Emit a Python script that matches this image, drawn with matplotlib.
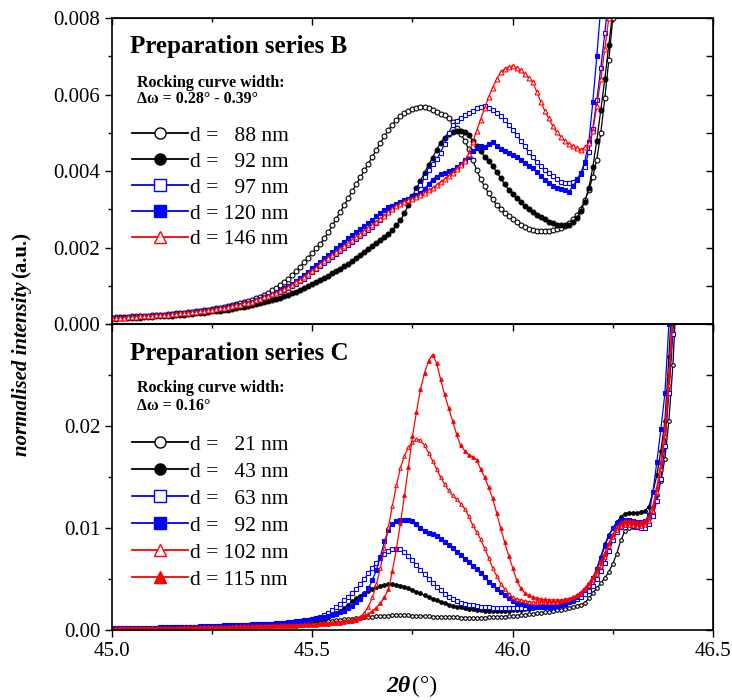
import numpy as np
import matplotlib
matplotlib.use("Agg")
import matplotlib.pyplot as plt
from matplotlib.lines import Line2D
from matplotlib.ticker import MultipleLocator, FormatStrFormatter

plt.rcParams["font.family"] = ["Liberation Serif", "DejaVu Serif"]

# ---- series B (top panel), intensity in units of 1e-4, 2theta = 45.00 ... 46.27 step 0.01
B_labels = ["d =   88 nm", "d =   92 nm", "d =   97 nm", "d = 120 nm", "d = 146 nm"]
B_88 = [1.7, 1.8, 1.8, 1.9, 1.9, 2.0, 2.0, 2.1, 2.2, 2.2,
        2.3, 2.4, 2.5, 2.5, 2.6, 2.7, 2.8, 2.9, 3.0, 3.1,
        3.2, 3.4, 3.5, 3.6, 3.8, 3.9, 4.1, 4.3, 4.5, 4.7,
        4.9, 5.2, 5.4, 5.7, 6.0, 6.4, 6.8, 7.2, 7.7, 8.2,
        8.8, 9.4, 10.1, 10.9, 11.8, 12.8, 13.9, 15.0, 16.2, 17.4,
        18.6, 19.8, 21.0, 22.4, 24.0, 25.8, 27.6, 29.4, 31.2, 33.0,
        34.8, 36.6, 38.4, 40.2, 42.0, 43.8, 45.6, 47.4, 49.2, 50.8,
        52.2, 53.4, 54.4, 55.2, 55.8, 56.3, 56.6, 56.8, 56.9, 56.6,
        56.0, 55.4, 55.0, 54.6, 53.8, 52.8, 51.4, 49.8, 48.0, 45.8,
        43.0, 40.4, 38.0, 36.0, 34.2, 32.6, 31.2, 30.0, 29.0, 28.2,
        27.4, 26.7, 26.0, 25.4, 24.9, 24.6, 24.4, 24.3, 24.3, 24.4,
        24.6, 24.8, 25.2, 25.7, 26.4, 27.4, 28.6, 30.2, 32.4, 35.0,
        38.5, 43.0, 50.0, 59.0, 69.0, 80.0, 92.0, 105]
B_92 = [1.4, 1.4, 1.5, 1.5, 1.6, 1.6, 1.7, 1.7, 1.8, 1.8,
        1.9, 2.0, 2.0, 2.1, 2.2, 2.2, 2.3, 2.4, 2.5, 2.6,
        2.7, 2.8, 2.9, 3.0, 3.1, 3.3, 3.4, 3.5, 3.7, 3.8,
        4.0, 4.2, 4.4, 4.6, 4.8, 5.0, 5.2, 5.5, 5.7, 6.0,
        6.3, 6.6, 6.9, 7.3, 7.7, 8.1, 8.5, 9.0, 9.5, 10.0,
        10.5, 11.0, 11.5, 12.1, 12.7, 13.3, 13.9, 14.5, 15.1, 15.8,
        16.5, 17.2, 18.0, 18.8, 19.6, 20.4, 21.2, 22.0, 22.8, 23.6,
        24.6, 25.8, 27.2, 29.0, 31.2, 33.4, 35.5, 37.5, 39.6, 41.6,
        43.5, 45.5, 47.4, 48.8, 49.8, 50.2, 50.4, 50.5, 50.2, 49.4,
        48.0, 46.6, 45.2, 43.8, 42.6, 41.4, 39.8, 38.2, 36.6, 35.2,
        34.0, 33.0, 32.0, 31.0, 30.0, 29.2, 28.6, 28.0, 27.4, 26.8,
        26.4, 26.0, 25.8, 25.8, 26.0, 26.6, 27.8, 29.6, 32.0, 35.5,
        41.0, 48.0, 56.0, 64.0, 73.0, 82.0, 93.0, 105]
B_97 = [1.6, 1.6, 1.7, 1.7, 1.8, 1.8, 1.9, 2.0, 2.0, 2.1,
        2.2, 2.3, 2.3, 2.4, 2.5, 2.6, 2.7, 2.8, 2.9, 3.0,
        3.1, 3.2, 3.4, 3.5, 3.6, 3.8, 3.9, 4.1, 4.3, 4.5,
        4.7, 4.9, 5.1, 5.4, 5.6, 5.9, 6.2, 6.6, 7.0, 7.4,
        7.7, 8.1, 8.5, 9.0, 9.5, 10.0, 10.6, 11.2, 11.9, 12.7,
        13.5, 14.3, 15.1, 15.9, 16.7, 17.5, 18.3, 19.1, 19.9, 20.7,
        21.5, 22.3, 23.1, 23.9, 24.7, 25.5, 26.4, 27.3, 28.2, 29.2,
        30.2, 31.0, 31.6, 32.0, 32.4, 33.2, 34.6, 36.4, 38.4, 40.2,
        41.8, 43.2, 44.8, 47.2, 50.0, 52.0, 53.2, 54.0, 54.6, 55.2,
        55.8, 56.4, 56.8, 57.0, 56.6, 56.0, 55.2, 54.4, 53.4, 52.2,
        50.8, 49.4, 48.0, 46.6, 45.0, 43.6, 42.4, 41.4, 40.4, 39.6,
        38.8, 38.0, 37.2, 36.8, 36.8, 37.2, 38.0, 39.2, 41.2, 45.0,
        51.0, 58.5, 67.0, 76.0, 86.0, 97.0, 110, 125]
B_120 = [1.6, 1.6, 1.7, 1.7, 1.8, 1.8, 1.9, 2.0, 2.0, 2.1,
         2.2, 2.3, 2.3, 2.4, 2.5, 2.6, 2.7, 2.8, 2.9, 3.0,
         3.1, 3.2, 3.4, 3.5, 3.6, 3.8, 3.9, 4.1, 4.3, 4.5,
         4.7, 4.9, 5.1, 5.4, 5.6, 5.9, 6.2, 6.6, 7.0, 7.4,
         7.9, 8.4, 8.9, 9.4, 10.0, 10.6, 11.3, 12.1, 12.9, 13.7,
         14.6, 15.4, 16.3, 17.2, 18.0, 18.9, 19.8, 20.7, 21.6, 22.4,
         23.2, 24.0, 24.8, 25.6, 26.4, 27.3, 28.2, 29.0, 29.8, 30.5,
         31.0, 31.5, 32.0, 32.4, 32.8, 33.2, 33.7, 34.4, 35.4, 36.6,
         37.8, 38.6, 39.2, 39.6, 40.0, 40.4, 41.0, 41.8, 42.8, 43.8,
         45.2, 46.0, 46.5, 46.2, 47.2, 47.6, 46.6, 45.8, 45.4, 44.8,
         44.2, 43.6, 43.0, 42.2, 41.4, 40.8, 39.8, 38.8, 37.6, 36.8,
         36.0, 35.6, 35.4, 35.0, 34.6, 36.0, 37.6, 39.5, 42.5, 47.5,
         58.0, 70.0, 83.0, 96.0, 110, 125, 140, 155]
B_146 = [1.6, 1.6, 1.7, 1.7, 1.8, 1.8, 1.9, 2.0, 2.0, 2.1,
         2.2, 2.3, 2.3, 2.4, 2.5, 2.6, 2.7, 2.8, 2.9, 3.0,
         3.1, 3.2, 3.4, 3.5, 3.6, 3.8, 3.9, 4.1, 4.3, 4.5,
         4.7, 4.9, 5.1, 5.4, 5.6, 5.9, 6.2, 6.6, 7.0, 7.4,
         7.8, 8.2, 8.7, 9.2, 9.7, 10.3, 10.9, 11.6, 12.4, 13.2,
         14.0, 14.8, 15.6, 16.4, 17.2, 18.0, 18.8, 19.6, 20.4, 21.2,
         22.0, 22.8, 23.6, 24.4, 25.2, 26.0, 26.8, 27.6, 28.4, 29.2,
         30.0, 30.8, 31.5, 32.0, 32.4, 32.8, 33.2, 33.8, 34.4, 35.0,
         35.6, 36.4, 37.2, 38.0, 38.8, 39.6, 40.6, 41.6, 42.6, 44.6,
         47.5, 50.5, 53.5, 56.5, 59.3, 61.8, 64.0, 65.8, 66.8, 67.3,
         67.4, 67.0, 66.4, 65.4, 64.4, 63.3, 60.8, 58.2, 55.8, 53.8,
         51.8, 50.2, 49.0, 48.0, 47.2, 46.6, 46.1, 45.6, 46.2, 47.4,
         50.5, 57.0, 64.0, 72.0, 80.0, 90.0, 100, 112]

# ---- series C (bottom panel), units of 1e-4, 2theta = 45.00 ... 46.41 step 0.01
C_labels = ["d =   21 nm", "d =   43 nm", "d =   63 nm", "d =   92 nm", "d = 102 nm", "d = 115 nm"]
C_21 = [2.0, 2.0, 2.0, 2.1, 2.1, 2.1, 2.2, 2.2, 2.2, 2.3,
        2.3, 2.4, 2.4, 2.5, 2.5, 2.6, 2.6, 2.7, 2.7, 2.8,
        2.9, 2.9, 3.0, 3.1, 3.2, 3.3, 3.3, 3.4, 3.5, 3.6,
        3.7, 3.8, 3.9, 4.0, 4.2, 4.3, 4.4, 4.6, 4.7, 4.9,
        5.0, 5.2, 5.4, 5.6, 5.8, 6.0, 6.2, 6.4, 6.7, 7.0,
        7.3, 7.6, 8.0, 8.4, 8.8, 9.2, 9.6, 10.0, 10.4, 10.8,
        11.2, 11.6, 12.0, 12.4, 12.8, 13.1, 13.4, 13.7, 14.0, 14.2,
        14.4, 14.5, 14.5, 14.5, 14.4, 14.2, 14.0, 13.8, 13.6, 13.4,
        13.2, 13.0, 12.9, 12.7, 12.6, 12.4, 12.3, 12.2, 12.1, 12.0,
        12.0, 12.0, 12.1, 12.2, 12.3, 12.5, 12.7, 12.9, 13.2, 13.5,
        13.8, 14.1, 14.5, 14.9, 15.3, 15.8, 16.3, 16.8, 17.4, 18.0,
        18.6, 19.3, 20.0, 20.8, 21.6, 22.5, 23.6, 25.0, 26.8, 31.0,
        36.0, 41.0, 46.0, 51.0, 57.0, 65.0, 75.0, 88.0, 97.0, 100,
        101, 101, 101, 101.5, 104, 115, 132, 146, 168, 205,
        260, 340]
C_43 = [1.8, 1.8, 1.9, 1.9, 2.0, 2.0, 2.1, 2.1, 2.2, 2.2,
        2.3, 2.3, 2.4, 2.5, 2.5, 2.6, 2.7, 2.8, 2.9, 3.0,
        3.1, 3.2, 3.3, 3.4, 3.5, 3.6, 3.7, 3.8, 3.9, 4.0,
        4.1, 4.2, 4.3, 4.4, 4.5, 4.6, 4.7, 4.8, 4.9, 5.0,
        5.1, 5.3, 5.5, 5.7, 5.9, 6.1, 6.4, 6.7, 7.0, 7.4,
        7.8, 8.6, 9.6, 10.8, 12.4, 14.4, 16.6, 19.0, 21.8, 25.0,
        28.2, 31.0, 33.6, 36.0, 38.2, 40.2, 42.0, 43.4, 44.4, 45.0,
        45.0, 44.5, 43.6, 42.4, 41.0, 39.4, 37.6, 35.8, 34.0, 32.2,
        30.6, 29.0, 27.6, 26.2, 25.0, 24.0, 23.0, 22.2, 21.4, 20.8,
        20.2, 19.8, 19.4, 19.1, 18.9, 18.7, 18.6, 18.6, 18.7, 18.9,
        19.2, 19.6, 20.0, 20.5, 21.0, 21.6, 22.2, 22.8, 23.5, 24.2,
        24.9, 25.6, 26.4, 27.2, 28.2, 29.4, 31.0, 33.5, 37.0, 42.0,
        50.0, 60.0, 72.0, 84.0, 93.0, 100, 106, 111, 114, 115,
        115, 115, 115.5, 117, 121, 135, 152, 176, 205, 268,
        340, 420]
C_63 = [1.8, 1.9, 1.9, 2.0, 2.0, 2.1, 2.1, 2.2, 2.2, 2.3,
        2.4, 2.4, 2.5, 2.6, 2.7, 2.8, 2.9, 3.0, 3.1, 3.2,
        3.3, 3.4, 3.5, 3.7, 3.8, 4.0, 4.1, 4.3, 4.5, 4.7,
        4.9, 5.0, 5.1, 5.2, 5.3, 5.4, 5.5, 5.6, 5.7, 5.8,
        6.0, 6.3, 6.6, 6.9, 7.3, 7.7, 8.2, 8.7, 9.3, 10.0,
        10.8, 11.8, 13.0, 14.6, 16.8, 19.4, 22.4, 25.6, 29.0, 32.6,
        36.4, 40.2, 45.0, 50.0, 55.6, 61.0, 66.0, 70.4, 74.2, 77.2,
        79.0, 79.6, 79.0, 76.8, 73.0, 68.4, 63.6, 59.0, 54.6, 50.4,
        46.4, 42.6, 39.0, 35.6, 32.6, 30.0, 28.2, 26.8, 25.8, 25.0,
        24.2, 23.6, 23.0, 22.6, 22.2, 21.9, 21.7, 21.6, 21.6, 21.6,
        21.6, 21.7, 21.8, 22.0, 22.3, 22.6, 23.0, 23.4, 23.9, 24.4,
        25.0, 25.6, 26.2, 26.9, 27.6, 28.6, 30.0, 32.0, 35.0, 38.5,
        43.5, 50.0, 58.0, 66.0, 77.0, 88.0, 96.0, 101, 103, 103,
        102, 101, 100, 100.5, 104, 112, 127, 148, 180, 232,
        290, 370]
C_92 = [1.6, 1.6, 1.7, 1.7, 1.8, 1.8, 1.9, 1.9, 2.0, 2.0,
        2.1, 2.1, 2.2, 2.3, 2.3, 2.4, 2.5, 2.6, 2.6, 2.7,
        2.8, 2.9, 3.0, 3.1, 3.2, 3.3, 3.4, 3.6, 3.7, 3.9,
        4.0, 4.2, 4.4, 4.6, 4.8, 5.0, 5.2, 5.5, 5.7, 6.0,
        6.3, 6.6, 6.9, 7.2, 7.6, 8.0, 8.4, 8.9, 9.4, 10.0,
        10.6, 11.3, 12.0, 12.9, 13.8, 14.8, 16.0, 17.4, 19.0, 21.2,
        24.0, 27.0, 30.5, 35.0, 41.0, 49.0, 59.0, 72.0, 87.0, 98.0,
        104, 106.5, 107.5, 108, 108, 107, 104, 100, 97, 95,
        94.0, 92.0, 89.5, 86.7, 83.6, 80.2, 76.8, 73.2, 70.0, 66.8,
        63.2, 59.5, 55.6, 51.5, 47.3, 43.8, 40.4, 37.0, 34.0, 31.0,
        28.5, 26.8, 25.4, 24.4, 23.6, 23.0, 22.6, 22.4, 22.4, 22.5,
        22.8, 23.4, 24.4, 25.8, 27.6, 29.8, 32.4, 35.4, 39.0, 44.0,
        51.0, 60.0, 71.0, 82.0, 92.0, 100, 105, 107.5, 108, 107.5,
        106.5, 106, 106, 106.5, 113, 135, 165, 197, 232, 300,
        370, 440]
C_102 = [1.6, 1.6, 1.7, 1.7, 1.7, 1.8, 1.8, 1.9, 1.9, 2.0,
         2.0, 2.1, 2.1, 2.2, 2.2, 2.3, 2.3, 2.4, 2.5, 2.5,
         2.6, 2.7, 2.7, 2.8, 2.9, 3.0, 3.0, 3.1, 3.2, 3.3,
         3.4, 3.5, 3.6, 3.7, 3.8, 3.9, 4.0, 4.1, 4.2, 4.3,
         4.4, 4.5, 4.6, 4.7, 4.8, 4.9, 5.0, 5.2, 5.4, 5.6,
         5.8, 6.1, 6.4, 6.7, 7.0, 7.3, 7.6, 8.0, 8.5, 9.0,
         9.8, 11.0, 13.0, 17.0, 23.0, 32.0, 45.0, 61.0, 80.0, 101,
         122, 142, 159, 171, 179, 184, 187, 186, 181, 174,
         166, 158, 150, 143, 137, 132, 128, 124, 119, 112,
         103, 96, 89, 80, 71, 61, 53, 45.5, 40, 35.5,
         32.0, 30.4, 29.2, 28.4, 27.8, 27.4, 27.1, 27.0, 27.0, 27.1,
         27.4, 27.9, 28.6, 29.5, 30.6, 32.0, 34.0, 36.5, 39.8, 44.0,
         49.0, 55.0, 63.0, 72.0, 82.0, 91.0, 98.0, 102, 103, 103,
         102.5, 102, 102, 103, 107, 117, 135, 158, 190, 240,
         305, 380]
C_115 = [1.4, 1.4, 1.5, 1.5, 1.5, 1.6, 1.6, 1.7, 1.7, 1.8,
         1.8, 1.9, 1.9, 2.0, 2.0, 2.1, 2.1, 2.2, 2.2, 2.3,
         2.3, 2.4, 2.4, 2.5, 2.6, 2.6, 2.7, 2.8, 2.8, 2.9,
         3.0, 3.0, 3.1, 3.2, 3.3, 3.3, 3.4, 3.5, 3.6, 3.7,
         3.8, 3.9, 4.0, 4.1, 4.2, 4.3, 4.4, 4.5, 4.6, 4.7,
         4.8, 5.1, 5.4, 5.7, 6.0, 6.4, 6.8, 7.2, 7.8, 8.4,
         9.2, 10.2, 11.6, 13.4, 15.8, 18.6, 22.0, 26.5, 32.0, 40.0,
         58, 80, 105, 132, 160, 190, 214, 236, 252, 264,
         270, 262, 246, 231, 218, 205, 192, 181, 176, 172,
         170, 167, 158, 150, 140, 129, 115, 100, 86, 73,
         61, 49, 41, 36.5, 34, 32.4, 31.2, 30.4, 30.0, 29.6,
         29.6, 29.4, 29.6, 30.0, 30.8, 32.0, 34.0, 37.0, 41.0, 46.0,
         52.0, 59.0, 67.0, 76.0, 85.0, 94.0, 101, 105, 107, 107,
         106.5, 106, 106, 107, 111, 122, 140, 165, 200, 250,
         315, 390]

BLACK, BLUE, RED = "#000000", "#0000FF", "#FF0000"
B_styles = [(BLACK, "o", False), (BLACK, "o", True), (BLUE, "s", False),
            (BLUE, "s", True), (RED, "^", False)]
C_styles = [(BLACK, "o", False), (BLACK, "o", True), (BLUE, "s", False),
            (BLUE, "s", True), (RED, "^", False), (RED, "^", True)]

fig = plt.figure(figsize=(7.32, 7.00), dpi=100)
ax_b = fig.add_axes([0.153, 0.537, 0.821, 0.437])
ax_c = fig.add_axes([0.153, 0.100, 0.821, 0.437])


def draw_panel(ax, series, labels, styles, ms):
    handles = []
    for vals, lab, (col, mk, filled) in zip(series, labels, styles):
        y = np.array(vals) * 1e-4
        x = np.round(45.0 + 0.01 * np.arange(len(y)), 2)
        face = col if filled else "white"
        ax.plot(x, y, color=col, lw=0.9, marker=mk, ms=ms, mfc=face,
                mec=col, mew=0.8)
        handles.append(Line2D([], [], color=col, lw=1.3, marker=mk, ms=8,
                              mfc=face, mec=col, mew=1.0, label=lab))
    return handles


hb = draw_panel(ax_b, [B_88, B_92, B_97, B_120, B_146], B_labels, B_styles, 3.5)
hc = draw_panel(ax_c, [C_21, C_43, C_63, C_92, C_102, C_115], C_labels, C_styles, 2.6)

for ax in (ax_b, ax_c):
    ax.set_xlim(45.0, 46.5)
    ax.xaxis.set_major_locator(MultipleLocator(0.5))
    ax.xaxis.set_minor_locator(MultipleLocator(0.25))
    ax.tick_params(which="both", direction="out", labelsize=15, width=1.0)
    ax.tick_params(which="major", length=5)
    ax.tick_params(which="minor", length=3)
    for s in ax.spines.values():
        s.set_linewidth(1.2)
    top = ax.secondary_xaxis("top")
    top.xaxis.set_major_locator(MultipleLocator(0.5))
    top.xaxis.set_minor_locator(MultipleLocator(0.25))
    top.tick_params(which="both", direction="in", labeltop=False, width=1.0)
    top.tick_params(which="major", length=5)
    top.tick_params(which="minor", length=3)

ax_b.set_ylim(0, 0.008)
ax_b.yaxis.set_major_locator(MultipleLocator(0.002))
ax_b.yaxis.set_minor_locator(MultipleLocator(0.001))
ax_b.yaxis.set_major_formatter(FormatStrFormatter("%.3f"))
ax_b.tick_params(axis="x", labelbottom=False)
rb = ax_b.secondary_yaxis("right")
rb.yaxis.set_major_locator(MultipleLocator(0.001))
rb.tick_params(direction="in", labelright=False, length=5, width=1.0)

ax_c.set_ylim(0, 0.030)
ax_c.set_yticks([0.0, 0.01, 0.02])
ax_c.yaxis.set_minor_locator(MultipleLocator(0.005))
ax_c.yaxis.set_major_formatter(FormatStrFormatter("%.2f"))
ax_c.xaxis.set_major_formatter(FormatStrFormatter("%.1f"))
rc = ax_c.secondary_yaxis("right")
rc.yaxis.set_major_locator(MultipleLocator(0.005))
rc.tick_params(direction="in", labelright=False, length=5, width=1.0)

# panel annotations
ax_b.text(0.030, 0.908, "Preparation series B", transform=ax_b.transAxes,
          fontsize=18, fontweight="bold", va="center")
ax_b.text(0.042, 0.788, "Rocking curve width:", transform=ax_b.transAxes,
          fontsize=11.5, fontweight="bold", va="center")
ax_b.text(0.042, 0.735, "\u0394\u03c9 = 0.28\u00b0 - 0.39\u00b0", transform=ax_b.transAxes,
          fontsize=11.5, fontweight="bold", va="center")
ax_c.text(0.030, 0.905, "Preparation series C", transform=ax_c.transAxes,
          fontsize=18, fontweight="bold", va="center")
ax_c.text(0.042, 0.791, "Rocking curve width:", transform=ax_c.transAxes,
          fontsize=11.5, fontweight="bold", va="center")
ax_c.text(0.042, 0.732, "\u0394\u03c9 = 0.16\u00b0", transform=ax_c.transAxes,
          fontsize=11.5, fontweight="bold", va="center")

ax_b.legend(handles=hb, loc="upper left", bbox_to_anchor=(0.033, 0.648),
            frameon=False, fontsize=15.5, handlelength=2.6, handletextpad=0.1,
            labelspacing=0.27, borderpad=0, borderaxespad=0)
ax_c.legend(handles=hc, loc="upper left", bbox_to_anchor=(0.033, 0.638),
            frameon=False, fontsize=15.5, handlelength=2.6, handletextpad=0.1,
            labelspacing=0.32, borderpad=0, borderaxespad=0)

# axis labels with mixed styles
fig.canvas.draw()
r = fig.canvas.get_renderer()
ylab1 = fig.text(0.030, 0.349, "normalised intensity", rotation=90, fontsize=15,
                 fontweight="bold", fontstyle="italic", ha="center", va="bottom")
ext = ylab1.get_window_extent(r)
y_end = ext.y1 / fig.bbox.height
fig.text(0.030, y_end + 0.005, "(a.u.)", rotation=90, fontsize=15,
         fontweight="bold", ha="center", va="bottom")

xlab1 = fig.text(0.528, 0.020, "2\u03b8", fontsize=17, fontweight="bold",
                 fontstyle="italic", ha="left", va="center")
ext = xlab1.get_window_extent(r)
fig.text(ext.x1 / fig.bbox.width + 0.002, 0.020, "(\u00b0)", fontsize=17,
         ha="left", va="center")

fig.savefig("out.png", dpi=100)
